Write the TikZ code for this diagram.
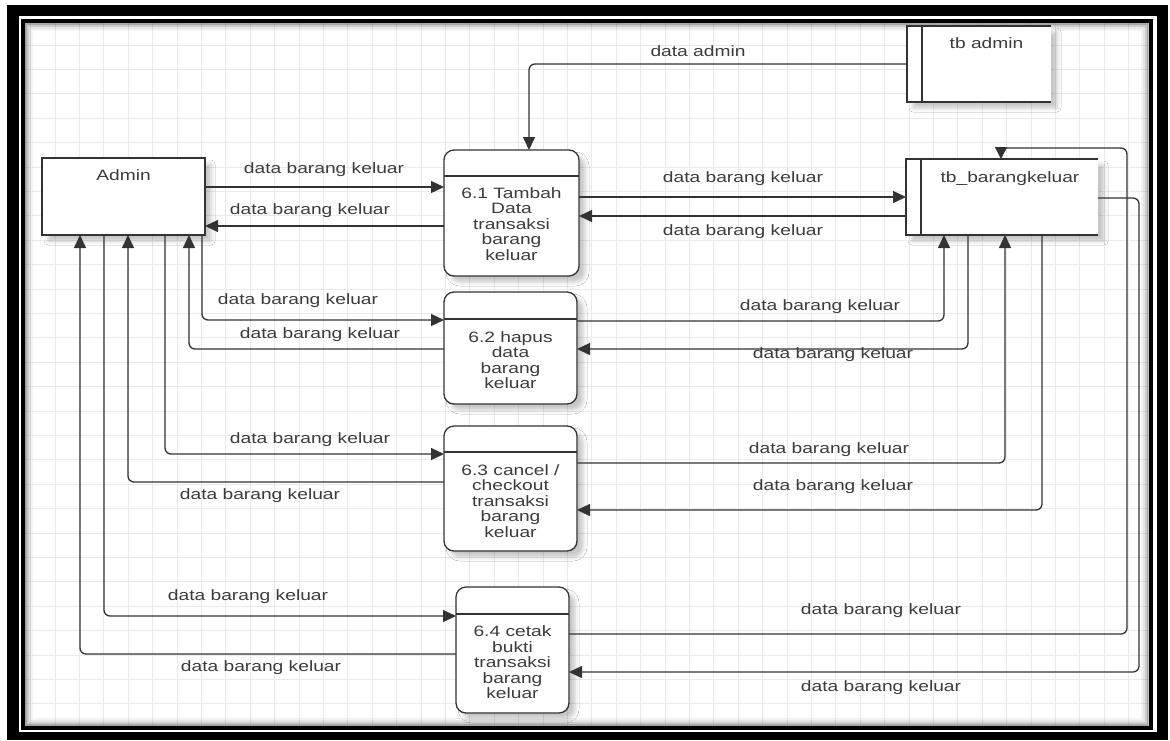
\documentclass[tikz,border=0pt]{standalone}
\usepackage{fontspec}
\setmainfont{Liberation Sans}[FakeStretch=1.28]
\usetikzlibrary{arrows.meta,calc,shadows.blur}
\definecolor{ink}{HTML}{333333}
\definecolor{txt}{HTML}{3C3C3C}
\definecolor{gridc}{HTML}{EAEAEA}
\begin{document}
\begin{tikzpicture}[x=1pt,y=-1pt,
  every node/.style={font=\fontsize{15}{15.5}\selectfont, text=txt, inner sep=0pt, outer sep=0pt},
  line/.style={draw=ink, line width=1.3pt},
  flow/.style={line, rounded corners=6pt, -{Triangle[length=13pt,width=12pt]}},
  tipline/.style={line, -{Triangle[length=12pt,width=12pt]}},
  soft/.style={blur shadow={shadow xshift=6pt, shadow yshift=-6pt, shadow blur radius=4pt, shadow opacity=22}},
  entity/.style={line, fill=white, soft, minimum width=163pt, minimum height=77pt},
  store/.style={fill=white, soft, minimum height=76pt},
  proc/.style={line, fill=white, soft, rounded corners=10pt},
  ptext/.style={align=center},
]
\useasboundingbox (0,0) rectangle (1170,740);

% ---- frame and grid paper ----
\fill[white] (0,0) rectangle (1170,740);
\fill[black] (7,5) rectangle (1168,740);
\fill[white] (19,16) rectangle (1157,731.5);
\begin{scope}
  \clip (25,22.5) rectangle (1148.5,725.5);
  \foreach \i in {0,...,46} \draw[gridc, line width=0.7pt] ({30.6+24.4*\i},22) -- ++(0,705);
  \foreach \j in {0,...,29} \draw[gridc, line width=0.7pt] (24,{20.6+24.4*\j}) -- ++(1126,0);
  \foreach \d/\o in {1/0.35,3/0.2,5/0.1,7/0.05}
    \draw[black, opacity=\o, line width=2pt] ({25+\d},{22.5+\d}) rectangle ({1148.5-\d},{725.5-\d});
\end{scope}
\draw[black, line width=4pt] (23,20.5) rectangle (1150.5,727.5);

% ---- external entity and data stores ----
\node[entity, label={[name=adminlbl, anchor=north, yshift=-12pt]north:Admin}] (admin) at (123.5,196.5) {};
\node[store, minimum width=144pt, label={[name=tbadminlbl, anchor=north, xshift=7.5pt, yshift=-12pt]north:tb admin}] (tbadmin) at (979,64) {};
\node[store, minimum width=192pt, label={[name=tbbklbl, anchor=north, xshift=8pt, yshift=-13pt]north:tb\_barangkeluar}] (tbbk) at (1002,197) {};
\foreach \s in {tbadmin,tbbk} {
  \draw[line] (\s.north east) -- (\s.north west) -- (\s.south west) -- (\s.south east);
  \draw[line] ([xshift=15pt]\s.north west) -- ([xshift=15pt]\s.south west);
}

% ---- processes ----
\node[proc, minimum width=135pt, minimum height=126pt] (p61) at (511.5,213) {};
\node[proc, minimum width=133pt, minimum height=112pt] (p62) at (510.5,348) {};
\node[proc, minimum width=133pt, minimum height=125pt] (p63) at (510.5,488.5) {};
\node[proc, minimum width=113pt, minimum height=126pt] (p64) at (512.5,650) {};
\foreach \p/\h in {p61/26,p62/27,p63/26,p64/27}
  \draw[line] ([yshift=-\h pt]\p.north west) -- ([yshift=-\h pt]\p.north east);
\node[ptext] (t61) at ([yshift=-11pt]p61.center) {6.1 Tambah\\Data\\transaksi\\barang\\keluar};
\node[ptext] (t62) at ([yshift=-12pt]p62.center) {6.2 hapus\\data\\barang\\keluar};
\node[ptext] (t63) at ([yshift=-12.5pt]p63.center) {6.3 cancel /\\checkout\\transaksi\\barang\\keluar};
\node[ptext] (t64) at ([yshift=-12.5pt]p64.center) {6.4 cetak\\bukti\\transaksi\\barang\\keluar};

% ---- data flows ----
\draw[flow] (tbadmin.west) -| (p61.north -| 529,0);
\draw[flow] (admin.east |- 0,187) -- (p61.west |- 0,187);
\draw[flow] (p61.west |- 0,226) -- (admin.east |- 0,226);
\draw[flow] (p61.east |- 0,197) -- (tbbk.west |- 0,197);
\draw[flow] (tbbk.west |- 0,216) -- (p61.east |- 0,216);

\draw[flow] (admin.south -| 202,0) |- (p62.west |- 0,320);
\draw[flow] (p62.west |- 0,349) -| (admin.south -| 189,0);
\draw[flow] (admin.south -| 165,0) |- (p63.west |- 0,454);
\draw[flow] (p63.west |- 0,482) -| (admin.south -| 128,0);
\draw[flow] (admin.south -| 104,0) |- (p64.west |- 0,616);
\draw[flow] (p64.west |- 0,654) -| (admin.south -| 80,0);

\draw[flow] (p62.east |- 0,321) -| (tbbk.south -| 944,0);
\draw[flow] (tbbk.south -| 968,0) |- (p62.east |- 0,349);
\draw[flow] (p63.east |- 0,463) -| (tbbk.south -| 1005,0);
\draw[flow] (tbbk.south -| 1042,0) |- (p63.east |- 0,510);
\coordinate (tbin) at (tbbk.north -| 1001,0);
\draw[line, rounded corners=6pt] (p64.east |- 0,634) -| (1127,148) -- (tbin |- 0,148);
\draw[tipline] (tbin |- 0,147) -- (tbin);
\draw[flow] (tbbk.east |- 0,198) -| (1139,672) -- (p64.east |- 0,672);

% ---- flow labels ----
\node (l0)  at (698,51)  {data admin};
\node (l1)  at (324,170) {data barang keluar};
\node (l2)  at (310,211) {data barang keluar};
\node (l3)  at (743,179) {data barang keluar};
\node (l4)  at (743,232) {data barang keluar};
\node (l5)  at (298,301) {data barang keluar};
\node (l6)  at (320,335) {data barang keluar};
\node (l7)  at (820,307) {data barang keluar};
\node (l8)  at (833,355) {data barang keluar};
\node (l9)  at (310,440) {data barang keluar};
\node (l10) at (260,496) {data barang keluar};
\node (l11) at (829,450) {data barang keluar};
\node (l12) at (833,487) {data barang keluar};
\node (l13) at (248,597) {data barang keluar};
\node (l14) at (261,668) {data barang keluar};
\node (l15) at (881,611) {data barang keluar};
\node (l16) at (881,688) {data barang keluar};
\end{tikzpicture}
\end{document}
